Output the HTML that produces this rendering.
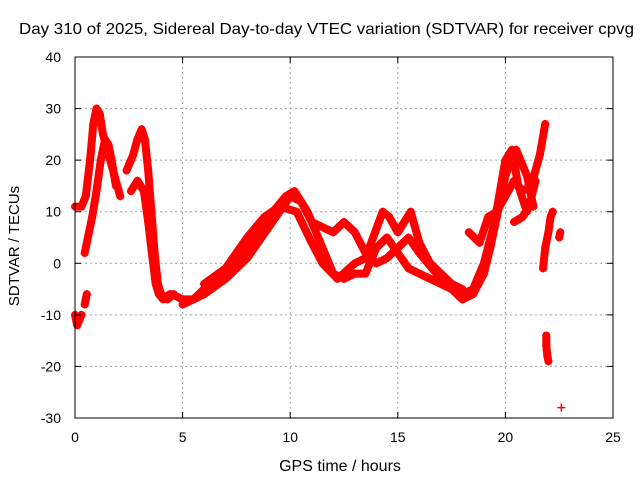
<!DOCTYPE html>
<html><head><meta charset="utf-8"><style>
body{margin:0;background:#fff;}
svg text{font-family:"Liberation Sans",sans-serif;font-size:14px;fill:#000;}
</style></head><body>
<svg id="chart" width="640" height="480" xmlns="http://www.w3.org/2000/svg">
<rect width="640" height="480" fill="#fff"/>
<text x="19" y="34" text-anchor="start" style="font-size:16px" textLength="615" lengthAdjust="spacingAndGlyphs">Day 310 of 2025, Sidereal Day-to-day VTEC variation (SDTVAR) for receiver cpvg</text>
<g id="grid"></g>
<g id="marks"></g>
<rect x="75" y="57" width="538" height="361" fill="none" stroke="#000" stroke-width="1"/>
<g id="axes"></g>
<text x="340" y="471" text-anchor="middle" style="font-size:16px">GPS time / hours</text>
<text transform="translate(19,246) rotate(-90)" text-anchor="middle" style="font-size:15px">SDTVAR / TECUs</text>
</svg>
<script>
const xTicks=[0,5,10,15,20,25];
const yTicks=[-30,-20,-10,0,10,20,30,40];
const tA_h=[0.0,0.1,0.2,0.3];
const tA_v=[-10,-12,-11,-10];
const tB_h=[0.45,0.5,0.55];
const tB_v=[-8,-7,-6];
const tC_h=[0.0,0.3,0.5,0.7,0.85,1.0,1.15,1.3,1.5,1.7,1.9,2.1];
const tC_v=[11,11,13,20,27,30,29,25,22,19,16,13];
const tD_h=[0.45,0.6,0.8,1.0,1.2,1.4,1.55,1.7,1.9];
const tD_v=[2,5,9,14,20,24,23,20,15];
const tE_h=[2.4,2.7,2.9,3.1,3.25,3.4,3.55,3.7,3.85,4.0,4.3,4.6];
const tE_v=[18,21,24,26,24,18,10,2,-4,-6,-7,-6];
const tF_h=[2.6,2.9,3.2,3.4,3.6,3.75,3.9,4.1,4.4];
const tF_v=[14,16,14,8,1,-4,-6,-7,-6];
const tG_h=[4.5,5,5.5,6,7,8,9,9.8,10.2,10.8,11.5,12,12.5,13,13.5,14,14.5,15,15.5,16,17,18];
const tG_v=[-6,-7,-7,-5,-2,3,9,13,14,10,3,-2,-3,-2,-2,3,5,2,-1,-2,-4,-6];
const tH_h=[5,5.5,6,7,8,9,10,10.5,11,12,12.5,13,13.5,14,14.5,15,15.5,16,17,18];
const tH_v=[-8,-7,-6,-3,1,7,13,12,8,6,8,6,2,0,1,3,5,2,-3,-5];
const tI_h=[6,7,8,8.8,9.5,10.3,11,11.5,12.2,13,13.5,14.3,14.6,15,15.6,16,16.5,17.5];
const tI_v=[-4,-1,5,9,11,10,4,0,-3,0,1,10,9,6,10,4,0,-4];
const tJ_h=[18,18.5,19,19.5,20,20.3,20.6,21];
const tJ_v=[-6,-5,0,8,20,22,15,10];
const tK_h=[17.5,18,18.5,19,19.3,19.6,20,20.5,21,21.3];
const tK_v=[-5,-7,-6,-2,3,9,17,22,17,11];
const tL_h=[18.3,18.8,19.2,19.6,20,20.4,20.8,21.2,21.6,21.85];
const tL_v=[6,4,9,10,13,16,14,15,21,27];
const tM_h=[20.4,20.8,21.1,21.4];
const tM_v=[8,9,11,16];
const tN_h=[21.75,21.85,22.0,22.1,22.2];
const tN_v=[-1,3,6,9,10];
const tO_h=[21.9,21.9,21.95,22.0];
const tO_v=[-14,-16,-18,-19];
const tP_h=[22.5,22.55];
const tP_v=[5,6];
const tQ_h=[22.6];
const tQ_v=[-28];
const series=[[tA_h,tA_v],[tB_h,tB_v],[tC_h,tC_v],[tD_h,tD_v],[tE_h,tE_v],[tF_h,tF_v],[tG_h,tG_v],[tH_h,tH_v],[tI_h,tI_v],[tJ_h,tJ_v],[tK_h,tK_v],[tL_h,tL_v],[tM_h,tM_v],[tN_h,tN_v],[tO_h,tO_v],[tP_h,tP_v],[tQ_h,tQ_v]];
const NS="http://www.w3.org/2000/svg";
function X(h){return 75+h*(538/25);}
function Y(v){return 418-(v+30)*(361/70);}
const grid=document.getElementById('grid'),axes=document.getElementById('axes'),marks=document.getElementById('marks');
function mk(tag,attrs,parent){const e=document.createElementNS(NS,tag);for(const k in attrs)e.setAttribute(k,attrs[k]);parent.appendChild(e);return e;}
xTicks.forEach(t=>{
  const x=X(t);
  if(t>0&&t<25){const g=mk('line',{x1:x,x2:x,y1:57,y2:418,stroke:'#a0a0a0','stroke-dasharray':'2,3'},grid);
  
  }
  mk('line',{x1:x,x2:x,y1:418,y2:412,stroke:'#000'},axes);
  mk('line',{x1:x,x2:x,y1:57,y2:63,stroke:'#000'},axes);
  const l=mk('text',{x:x,y:442,'text-anchor':'middle'},axes);l.textContent=t;
  
  
});
yTicks.forEach(t=>{
  const y=Y(t);
  if(t>-30&&t<40){const g=mk('line',{x1:75,x2:613,y1:y,y2:y,stroke:'#a0a0a0','stroke-dasharray':'2,3'},grid);
  
  }
  mk('line',{x1:75,x2:81,y1:y,y2:y,stroke:'#000'},axes);
  mk('line',{x1:613,x2:607,y1:y,y2:y,stroke:'#000'},axes);
  const l=mk('text',{x:61,y:y+5,'text-anchor':'end'},axes);l.textContent=t;
  
  
});
series.forEach(([hs,vs],i)=>{
  const g=mk('g',{},marks);
  
  
  if(hs.length>1){
    const d=hs.map((h,j)=>(j?'L':'M')+X(h).toFixed(1)+','+Y(vs[j]).toFixed(1)).join('');
    const p=mk('path',{d:d,fill:'none',stroke:'#f00','stroke-width':8,'stroke-linejoin':'round','stroke-linecap':'round'},g);
    
    
  }
  hs.forEach((h,j)=>{
    const x=X(h),y=Y(vs[j]);
    const m=mk('path',{d:`M${x-4},${y}h8M${x},${y-4}v8`,stroke:'#f00','stroke-width':1.5},g);
    
    
  });
});
</script>
</body></html>
